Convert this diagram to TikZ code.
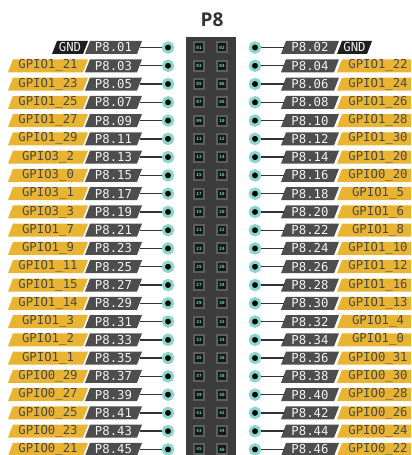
\documentclass[tikz,border=0pt]{standalone}
\usepackage{fontspec}
\setmonofont{DejaVu Sans Mono}
\newfontfamily\titlefont{Open Sans}
\definecolor{gpioyel}{HTML}{E9B431}
\definecolor{p8gray}{HTML}{4D4D4D}
\definecolor{gndblack}{HTML}{1E1E1E}
\definecolor{ringteal}{HTML}{8AD6CD}
\definecolor{hdrfill}{HTML}{3C3C3C}
\definecolor{pinout}{HTML}{5E5E5E}
\definecolor{pinin}{HTML}{101818}
\definecolor{pintxt}{HTML}{7FD3C8}
\definecolor{titlegray}{HTML}{333333}
\definecolor{yeltxt}{HTML}{4B4A42}
\definecolor{graytxt}{HTML}{F2F2F2}
\newcommand\pinnum[1]{\ifnum#1<10 0\fi#1}
\tikzset{
  lbltext/.style={font=\ttfamily\fontsize{12.3bp}{12.3bp}\selectfont, inner sep=0pt, minimum width=52bp, minimum height=13bp},
  p8lbl/.style={lbltext, text=graytxt},
  gpiolbl/.style={lbltext, text=yeltxt},
  gndlbl/.style={lbltext, text=graytxt, minimum width=28bp},
  ring/.style={circle, fill=black, draw=ringteal, line width=3bp, minimum size=9.4bp, inner sep=0pt},
  wire/.style={draw=titlegray, line width=1.4bp},
  pinouter/.style={rectangle, fill=pinout, minimum width=12bp, minimum height=12bp, inner sep=0pt},
  pininner/.style={rectangle, fill=pinin, minimum width=8bp, minimum height=8bp, inner sep=0pt, text=pintxt, font=\ttfamily\bfseries\fontsize{4.3bp}{4.3bp}\selectfont}
}
\begin{document}
\begin{tikzpicture}[x=1bp,y=-1bp]
\useasboundingbox (0,0) rectangle (411,455);
\clip (0,0) rectangle (411,455);
\node[font=\titlefont\bfseries\fontsize{19bp}{19bp}\selectfont, text=titlegray] (title) at (212,20) {P8};
\fill[hdrfill] (186,37) rectangle (236,470);
\foreach \i/\gl/\gr [evaluate=\i as \y using 47.5+18.27*(\i-1), evaluate=\i as \nl using int(2*\i-1), evaluate=\i as \nr using int(2*\i)] in {
 1/GND/GND, 2/GPIO1\_21/GPIO1\_22, 3/GPIO1\_23/GPIO1\_24, 4/GPIO1\_25/GPIO1\_26,
 5/GPIO1\_27/GPIO1\_28, 6/GPIO1\_29/GPIO1\_30, 7/GPIO3\_2/GPIO1\_20, 8/GPIO3\_0/GPIO0\_20,
 9/GPIO3\_1/GPIO1\_5, 10/GPIO3\_3/GPIO1\_6, 11/GPIO1\_7/GPIO1\_8, 12/GPIO1\_9/GPIO1\_10,
 13/GPIO1\_11/GPIO1\_12, 14/GPIO1\_15/GPIO1\_16, 15/GPIO1\_14/GPIO1\_13, 16/GPIO1\_3/GPIO1\_4,
 17/GPIO1\_2/GPIO1\_0, 18/GPIO1\_1/GPIO0\_31, 19/GPIO0\_29/GPIO0\_30, 20/GPIO0\_27/GPIO0\_28,
 21/GPIO0\_25/GPIO0\_26, 22/GPIO0\_23/GPIO0\_24, 23/GPIO0\_21/GPIO0\_22}{
  % header pins
  \node[pinouter] (pol\nl) at (199,\y) {};
  \node[pininner] (pil\nl) at (199,\y) {\pinnum{\nl}};
  \node[pinouter] (por\nr) at (222,\y) {};
  \node[pininner] (pir\nr) at (222,\y) {\pinnum{\nr}};
  % left side
  \fill[p8gray] (85,\y+6.5) -- (137,\y+6.5) -- (142,\y-6.5) -- (90,\y-6.5) -- cycle;
  \node[p8lbl] (lp\nl) at (113.5,\y) {P8.\pinnum{\nl}};
  \ifnum\i=1
    \fill[gndblack] (52,\y+6.5) -- (83,\y+6.5) -- (88,\y-6.5) -- (57,\y-6.5) -- cycle;
    \node[gndlbl] (lg\nl) at (70,\y) {\gl};
  \else
    \fill[gpioyel] (8,\y+6.5) -- (83,\y+6.5) -- (88,\y-6.5) -- (13,\y-6.5) -- cycle;
    \node[gpiolbl] (lg\nl) at (48,\y) {\gl};
  \fi
  \node[ring] (lc\nl) at (168,\y) {};
  \draw[wire] (lp\nl.east) -- (lc\nl.west);
  % right side
  \fill[p8gray] (281,\y+6.5) -- (334,\y+6.5) -- (339,\y-6.5) -- (286,\y-6.5) -- cycle;
  \node[p8lbl] (rp\nr) at (310,\y) {P8.\pinnum{\nr}};
  \ifnum\i=1
    \fill[gndblack] (337,\y+6.5) -- (367,\y+6.5) -- (372,\y-6.5) -- (342,\y-6.5) -- cycle;
    \node[gndlbl] (rg\nr) at (354.5,\y) {\gr};
  \else
    \fill[gpioyel] (337,\y+6.5) -- (414,\y+6.5) -- (419,\y-6.5) -- (342,\y-6.5) -- cycle;
    \node[gpiolbl] (rg\nr) at (378,\y) {\gr};
  \fi
  \node[ring] (rc\nr) at (255,\y) {};
  \draw[wire] (rc\nr.east) -- (rp\nr.west);
}
\end{tikzpicture}
\end{document}
